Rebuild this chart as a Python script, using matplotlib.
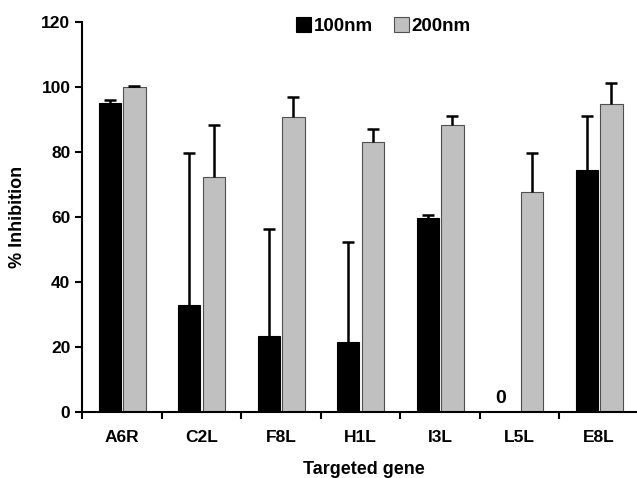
import matplotlib.pyplot as plt
import numpy as np

plt.rcParams['font.family'] = ['Liberation Sans', 'DejaVu Sans']
plt.rcParams['font.weight'] = 'bold'

genes = ['A6R', 'C2L', 'F8L', 'H1L', 'I3L', 'L5L', 'E8L']
inhib_100 = [95.0, 32.8, 23.3, 21.4, 59.8, 0.0, 74.4]
err_100 = [1.0, 46.8, 33.0, 30.9, 0.8, 0.0, 16.7]
inhib_200 = [99.9, 72.2, 90.8, 83.1, 88.2, 67.7, 94.9]
err_200 = [0.3, 16.2, 6.0, 4.1, 3.0, 12.1, 6.2]

fig = plt.figure(figsize=(6.37, 4.78), dpi=100)
ax = fig.add_axes([82.3 / 637, 66 / 478, 556.5 / 637, 390 / 478])

x = np.arange(len(genes)) + 0.5
w = 0.28
off = 0.155

ax.bar(x - off, inhib_100, w, color='black', edgecolor='black', linewidth=0.8, label='100nm', zorder=2)
ax.bar(x + off, inhib_200, w, color='#c0c0c0', edgecolor='#505050', linewidth=0.8, label='200nm', zorder=2)

# upper error bars only: vertical line + cap marker at the top
for xs, vals, errs in [(x - off, inhib_100, err_100), (x + off, inhib_200, err_200)]:
    vals = np.array(vals)
    errs = np.array(errs)
    m = errs > 0
    ax.vlines(xs[m], vals[m], vals[m] + errs[m], color='black', lw=1.8, zorder=3)
    ax.plot(xs[m], vals[m] + errs[m], ls='none', marker='_', ms=8, mew=1.8, color='black', zorder=3)

ax.text(x[5] - off - 0.08, 1.5, '0', ha='center', va='bottom', fontsize=14, fontweight='bold')

ax.set_xlim(0, 7)
ax.set_ylim(0, 120)
ax.set_yticks(range(0, 121, 20))
ax.set_xticks(range(0, 8))
ax.set_xticklabels([])
ax.set_xticks(x, minor=True)
ax.set_xticklabels(genes, minor=True, fontsize=12.5, fontweight='bold')
ax.tick_params(axis='x', which='minor', length=0, pad=13)
ax.tick_params(axis='both', which='major', direction='out', length=5, width=1.5, labelsize=12.5)
for lab in ax.get_yticklabels():
    lab.set_fontweight('bold')

for s in ['top', 'right']:
    ax.spines[s].set_visible(False)
for s in ['left', 'bottom']:
    ax.spines[s].set_linewidth(1.5)

fig.text(364 / 637, 1 - 461 / 478, 'Targeted gene', ha='center', va='top', fontsize=13, fontweight='bold')
fig.text(18 / 637, 1 - 217 / 478, '% Inhibition', ha='center', va='center', rotation=90,
         fontsize=13, fontweight='bold')

leg = ax.legend(loc='center left', bbox_to_anchor=(296 / 637, 1 - 26 / 478), bbox_transform=fig.transFigure,
                ncol=2, frameon=False, fontsize=13.5, handlelength=0.8, handleheight=0.8,
                handletextpad=0.15, columnspacing=1.1, borderpad=0, borderaxespad=0)
for t in leg.get_texts():
    t.set_fontweight('bold')

fig.savefig('out.png', dpi=100)
